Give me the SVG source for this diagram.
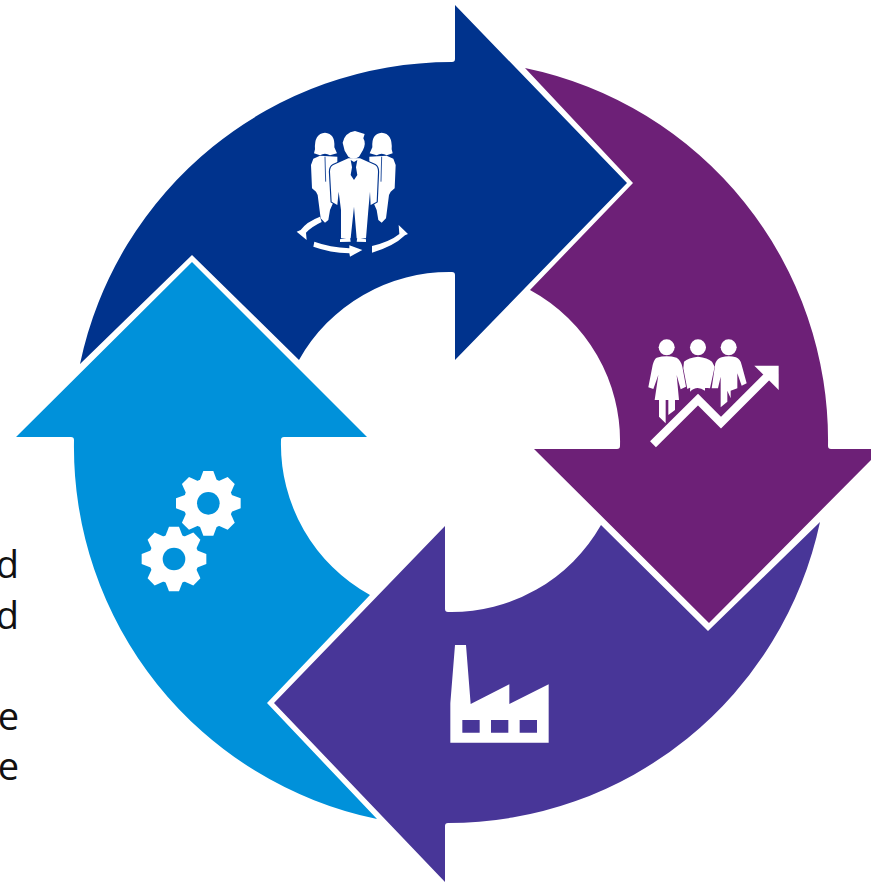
<svg xmlns="http://www.w3.org/2000/svg" xmlns:xlink="http://www.w3.org/1999/xlink" width="871" height="883" viewBox="0 0 871 883">
<style>
.ic{fill:#fff}
.txt{font-family:"Open Sans","Noto Sans",sans-serif;font-size:38px;fill:#111;text-anchor:end}
</style>
<defs>
<g id="gear">
<circle r="75" fill="#fff"/>
<g id="t2"><path id="t" class="ic" d="M-15 -97L15 -97L26 -68L-26 -68Z"/><use xlink:href="#t" transform="rotate(90)"/><use xlink:href="#t" transform="rotate(180)"/><use xlink:href="#t" transform="rotate(270)"/></g>
<use xlink:href="#t2" transform="rotate(45)"/>
<circle r="34" fill="#0091DA"/>
</g>
<g id="woman">
<path class="ic" d="M120 137L100 146L93 165L96 235L108 245L113 255L122 325L135 338L145 330L150 300L172 250L172 140Z"/>
<path class="ic" d="M105 118Q102 70 135 68Q166 70 163 112L171 130L150 136Q135 126 120 136L102 130Z"/>
<path fill="none" stroke="#00338D" stroke-width="2.5" d="M135 140L137 215"/>
</g>
</defs>
<rect width="871" height="883" fill="#fff"/>
<g id="labels">
<text class="txt" x="19" y="578">d</text>
<text class="txt" x="19" y="629">d</text>
<text class="txt" x="19" y="730">e</text>
<text class="txt" x="19" y="780">e</text>
</g>
<g id="arrow-blue">
<path fill="#00338D" d="M80 364A380 380 0 0 1 452 62Q455 62 455 59L455 5L627 183L455 360L455 275Q455 272 452 272A172 172 0 0 0 299 360L192 255Z"/>
<g transform="translate(280 110) scale(.33333)">
<use xlink:href="#woman"/>
<use xlink:href="#woman" transform="translate(440 0) scale(-1 1)"/>
<path class="ic" stroke="#00338D" stroke-width="7" paint-order="stroke" d="M205 145L160 165Q150 170 150 185L155 275L172 285L176 245L183 300L183 385L212 385L222 290L230 385L258 385L265 300L270 245L272 285L290 275L294 185Q294 170 285 165L240 145Z"/>
<path class="ic" d="M188 98Q194 68 225 63L254 72L250 85Q259 100 249 120L237 140Q220 152 205 140L194 122Z"/>
<path fill="#00338D" d="M212 150L222 156L232 150L228 172L232 195L222 210L212 195L216 172Z"/>
<path class="ic" d="M180 388L210 382L212 395L180 396ZM232 382L258 388L258 396L230 395Z"/>
<path class="ic" d="M120 320Q80 335 62 360L50 365L80 390L78 368Q95 350 125 336Z"/>
<path class="ic" d="M103 395Q150 412 208 415L208 406L247 420L210 440L208 430Q150 428 100 410Z"/>
<path class="ic" d="M276 408Q330 395 358 372L356 345L384 372L375 376Q340 410 276 428Z"/>
</g>
</g>
<g id="arrow-purple">
<path fill="#6D2077" d="M525 68A380 380 0 0 1 828 446Q828 449 831 449L882 449L709 623L534 449L617 449Q620 449 620 446A172 172 0 0 0 530 290L633 183Z"/>
<g transform="translate(630 320) scale(.33333)">
<circle class="ic" cx="110" cy="82" r="24"/><circle class="ic" cx="204" cy="82" r="24"/><circle class="ic" cx="296" cy="82" r="24"/>
<path class="ic" d="M80 113Q110 105 140 113Q152 120 157 140L168 200L152 208L140 165L147 240L135 240L135 270L115 285L115 240L107 240L107 310L87 290L87 240L74 240L85 165L70 207L55 202L68 135Q72 118 80 113Z"/>
<path class="ic" d="M162 125Q175 113 204 110Q233 113 246 125L254 140L240 205L224 203L226 172L225 212Q200 195 180 215L182 172L186 200L172 207L160 145Z"/>
<path class="ic" d="M256 130Q262 115 275 112Q296 105 318 112Q332 118 335 135L350 190L335 197L322 160L322 205L302 212L302 235L292 212L292 245L272 262L272 170L264 205L245 205Z"/>
<path fill="none" stroke="#fff" stroke-width="25" stroke-miterlimit="10" d="M69 373L204 239L273 308L412 169"/>
<path class="ic" d="M373 137L446 137L446 210Z"/>
</g>
</g>
<g id="arrow-indigo">
<path fill="#483698" d="M445 526L445 609Q445 612 448 612A172 172 0 0 0 601 525L708 631L820 522A380 380 0 0 1 448 823Q445 823 445 826L445 882L274 703Z"/>
<g transform="translate(430 630) scale(.33333)">
<path class="ic" d="M75 45L108 45L122 222L238 163L238 222L356 163L356 338L61 338L61 220Z"/>
<path fill="#483698" d="M97 270h52v38h-52zM183 270h52v38h-52zM269 270h52v38h-52z"/>
</g>
</g>
<g id="arrow-light">
<path fill="#0091DA" d="M192 262L367 437L284 437Q281 437 281 440A172 172 0 0 0 370 595L267 703L377 819A380 380 0 0 1 74 440Q74 437 71 437L16 437Z"/>
<g transform="translate(125 460) scale(.33333)">
<use xlink:href="#gear" x="250" y="130"/>
<use xlink:href="#gear" x="147" y="297"/>
</g>
</g>
</svg>
